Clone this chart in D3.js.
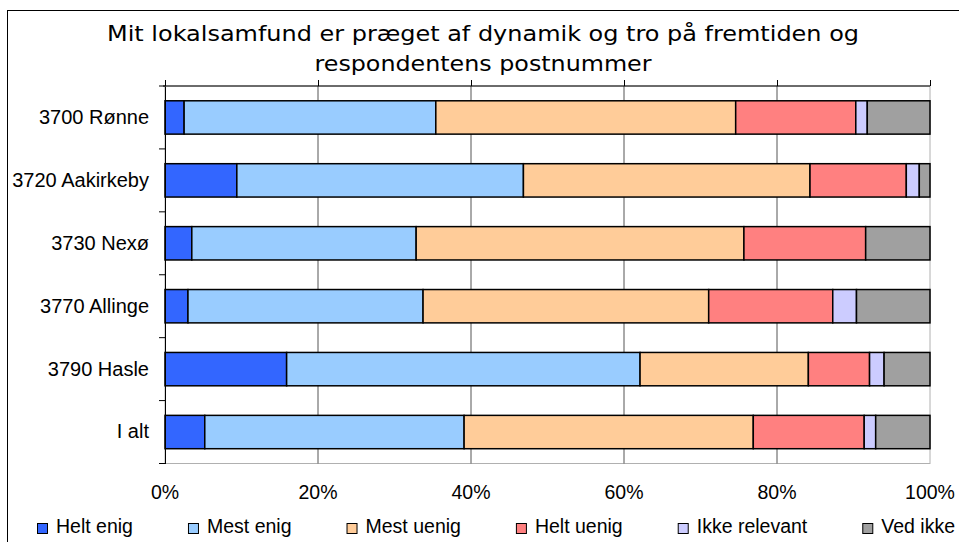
<!DOCTYPE html>
<html>
<head>
<meta charset="utf-8">
<script src="https://cdn.jsdelivr.net/npm/d3@7"></script>
<style>
  body { margin: 0; background: #fff; }
  svg { display: block; }
</style>
</head>
<body>
<div class="chart"></div>
<script>
// data (percent of respondents)
const categories = ["3700 Rønne", "3720 Aakirkeby", "3730 Nexø", "3770 Allinge", "3790 Hasle", "I alt"];
const seriesNames = ["Helt enig", "Mest enig", "Mest uenig", "Helt uenig", "Ikke relevant", "Ved ikke"];
const heltEnig     = [2.5, 9.4, 3.5, 3.0, 15.9, 5.2];
const mestEnig     = [32.9, 37.5, 29.3, 30.7, 46.2, 33.9];
const mestUenig    = [39.2, 37.5, 42.8, 37.3, 22.0, 37.8];
const heltUenig    = [15.7, 12.6, 15.9, 16.2, 8.0, 14.5];
const ikkeRelevant = [1.5, 1.7, 0, 3.1, 1.9, 1.5];
const vedIkke      = [8.2, 1.4, 8.4, 9.6, 6.0, 7.1];
const tickValues = [0, 0.2, 0.4, 0.6, 0.8, 1];
const colors = ["#3366FF", "#99CCFF", "#FFCC99", "#FF8080", "#CCCCFF", "#A0A0A0"];

const seriesValues = [heltEnig, mestEnig, mestUenig, heltUenig, ikkeRelevant, vedIkke];
const rows = categories.map((c, i) => {
    let r = {category: c};
    seriesNames.forEach((s, j) => r[s] = seriesValues[j][i]);
    return r;
});

const outWidth = 959, outHeight = 542;
const plot = {left: 165, right: 930, top: 86, bottom: 463.5};
const labelFont = "'Liberation Sans', Arial, sans-serif";

const svg = d3.select(".chart").append("svg")
    .attr("width", outWidth)
    .attr("height", outHeight);

// chart border
svg.append("rect")
    .attr("x", 7.5).attr("y", 10.5)
    .attr("width", 1000).attr("height", 600)
    .attr("fill", "none")
    .attr("stroke", "#000");

// title (Verdana-like, wide)
const title = svg.append("text")
    .attr("text-anchor", "middle")
    .attr("font-family", "'DejaVu Sans', Verdana, sans-serif")
    .attr("font-size", 21)
    .attr("fill", "#000");
title.append("tspan").attr("x", 483).attr("y", 41)
    .attr("textLength", 752).attr("lengthAdjust", "spacingAndGlyphs")
    .text("Mit lokalsamfund er præget af dynamik og tro på fremtiden og");
title.append("tspan").attr("x", 483).attr("y", 71)
    .attr("textLength", 337).attr("lengthAdjust", "spacingAndGlyphs")
    .text("respondentens postnummer");

let x = d3.scaleLinear()
    .domain([0, 1])
    .range([plot.left, plot.right]);

let y = d3.scaleBand()
    .domain(categories)
    .range([plot.top, plot.bottom])
    .paddingInner(0.47)
    .paddingOuter(0.235);

// plot area border (light gray)
svg.append("rect")
    .attr("x", plot.left).attr("y", plot.top)
    .attr("width", plot.right - plot.left).attr("height", plot.bottom - plot.top)
    .attr("fill", "none")
    .attr("stroke", "#b0b0b0");

// gridlines
svg.append("g")
    .selectAll("line")
    .data(tickValues.slice(1, -1))
    .join("line")
    .attr("x1", d => x(d)).attr("x2", d => x(d))
    .attr("y1", plot.top).attr("y2", plot.bottom)
    .attr("stroke", "#555")
    .attr("stroke-width", 1);

// bars
const stack = d3.stack().keys(seriesNames).offset(d3.stackOffsetExpand);
const stacked = stack(rows);

svg.append("g")
    .selectAll("g")
    .data(stacked)
    .join("g")
    .attr("fill", (d, i) => colors[i])
    .selectAll("rect")
    .data(d => d)
    .join("rect")
    .attr("x", d => x(d[0]))
    .attr("y", d => y(d.data.category))
    .attr("width", d => x(d[1]) - x(d[0]))
    .attr("height", y.bandwidth())
    .attr("stroke", "#000")
    .attr("stroke-width", 1.5);

// value axis line at top with outward ticks
const topAxis = svg.append("g")
    .attr("transform", `translate(0, ${plot.top})`)
    .call(d3.axisTop(x).tickValues(tickValues).tickSize(6).tickFormat(""));
topAxis.select(".domain").attr("d", `M${plot.left - 2},0H${plot.right}`).attr("stroke", "#000");
topAxis.selectAll(".tick line").attr("stroke", "#000");

// tick labels below the plot
svg.append("g")
    .selectAll("text")
    .data(tickValues)
    .join("text")
    .attr("x", d => x(d))
    .attr("y", 499)
    .attr("text-anchor", "middle")
    .attr("font-family", labelFont)
    .attr("font-size", 19.5)
    .text(d3.format(".0%"));

// category axis
const leftAxis = svg.append("g")
    .attr("transform", `translate(${plot.left}, 0)`)
    .call(d3.axisLeft(y).tickSize(0).tickPadding(16));
leftAxis.select(".domain").attr("stroke", "#000");
leftAxis.selectAll("text")
    .attr("font-family", labelFont)
    .attr("font-size", 20)
    .attr("fill", "#000");

// category ticks at band boundaries
const bounds = categories.map(c => y(c) - y.step() * y.paddingInner() / 2);
bounds.push(plot.bottom);
svg.append("g")
    .selectAll("line")
    .data(bounds)
    .join("line")
    .attr("x1", plot.left - 6).attr("x2", plot.left)
    .attr("y1", d => d).attr("y2", d => d)
    .attr("stroke", "#000");

// legend
const legend = svg.append("g").attr("font-family", labelFont).attr("font-size", 19.5);
let lx = 37;
seriesNames.forEach((s, i) => {
    const item = legend.append("g").attr("transform", `translate(${lx}, 0)`);
    item.append("rect")
        .attr("x", 0.5).attr("y", 523.5)
        .attr("width", 10).attr("height", 10)
        .attr("fill", colors[i])
        .attr("stroke", "#000");
    const t = item.append("text")
        .attr("x", 19).attr("y", 533)
        .text(s);
    lx += 19 + t.node().getComputedTextLength() + 55;
});
</script>
</body>
</html>
